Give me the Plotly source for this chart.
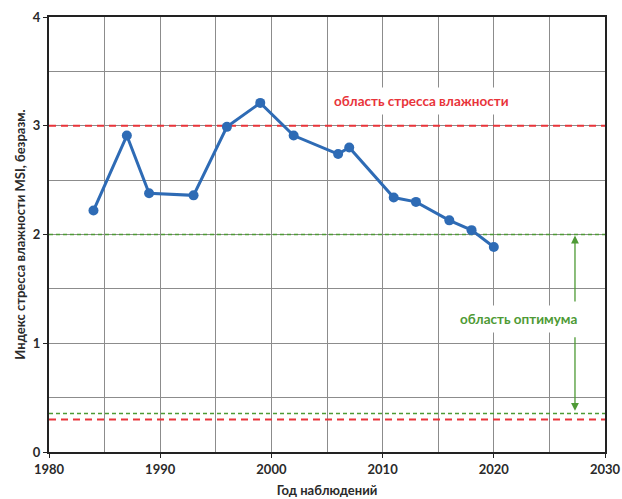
import plotly.graph_objects as go

years = [1984, 1987, 1989, 1993, 1996, 1999, 2002, 2006, 2007, 2011, 2013, 2016, 2018, 2020]
msi = [2.22, 2.91, 2.38, 2.36, 2.99, 3.21, 2.91, 2.74, 2.80, 2.34, 2.30, 2.13, 2.04, 1.885]

x_range = [1980, 2030]
stress_upper = 3.0
optimum_upper = 2.0
optimum_lower = 0.355
stress_lower = 0.30

blue = "#2E6BB5"
red = "#E8343A"
green = "#4E9A35"

fig = go.Figure()

fig.add_trace(go.Scatter(x=x_range, y=[stress_upper]*2, mode="lines",
                         line=dict(color=red, width=2, dash="7px,5px"), hoverinfo="skip"))
fig.add_trace(go.Scatter(x=x_range, y=[stress_lower]*2, mode="lines",
                         line=dict(color=red, width=2, dash="7px,5px"), hoverinfo="skip"))
fig.add_trace(go.Scatter(x=x_range, y=[optimum_upper]*2, mode="lines",
                         line=dict(color=green, width=1.5, dash="4px,3px"), hoverinfo="skip"))
fig.add_trace(go.Scatter(x=x_range, y=[optimum_lower]*2, mode="lines",
                         line=dict(color=green, width=1.5, dash="4px,3px"), hoverinfo="skip"))

fig.add_trace(go.Scatter(x=years, y=msi, mode="lines+markers",
                         line=dict(color=blue, width=3),
                         marker=dict(color=blue, size=10)))

font_family = "Lato, 'Open Sans', sans-serif"

fig.add_annotation(x=2013.5, y=3.23, text="<b>область стресса влажности</b>",
                   showarrow=False, font=dict(color=red, size=13.5, family=font_family),
                   bgcolor="white", borderpad=5)
fig.add_annotation(x=2022.2, y=1.22, text="<b>область оптимума</b>",
                   showarrow=False, font=dict(color=green, size=13.5, family=font_family),
                   bgcolor="white", borderpad=5)
# arrows
fig.add_annotation(x=2027.3, y=1.99, ax=2027.3, ay=1.37, xref="x", yref="y",
                   axref="x", ayref="y", text="", showarrow=True,
                   arrowhead=2, arrowsize=1.2, arrowwidth=1.3, arrowcolor=green)
fig.add_annotation(x=2027.3, y=0.38, ax=2027.3, ay=1.07, xref="x", yref="y",
                   axref="x", ayref="y", text="", showarrow=True,
                   arrowhead=2, arrowsize=1.2, arrowwidth=1.3, arrowcolor=green)

axis_common = dict(showline=True, linecolor="#222", linewidth=2, mirror=True,
                   showgrid=True, gridcolor="#8c8c8c", gridwidth=1, zeroline=False,
                   ticks="outside", ticklen=4, tickcolor="#222", automargin=False,
                   tickfont=dict(size=13, color="#2a2a2a", family=font_family, weight="bold"))

fig.update_xaxes(range=x_range, dtick=10, tick0=1980,
                 minor=dict(dtick=5, showgrid=True, gridcolor="#8c8c8c", ticks=""),
                 title=dict(text="<b>Год наблюдений</b>", font=dict(size=13, color="#2a2a2a", family=font_family), standoff=10),
                 tickformat="d", **axis_common)
fig.update_yaxes(range=[0, 4], dtick=1,
                 minor=dict(dtick=0.5, showgrid=True, gridcolor="#8c8c8c", ticks=""),
                 title=dict(text="<b>Индекс стресса влажности MSI, безразм.</b>", font=dict(size=13, color="#2a2a2a", family=font_family), standoff=4),
                 **axis_common)

fig.update_layout(width=622, height=499, margin=dict(l=49, r=17, t=17, b=47),
                  plot_bgcolor="white", paper_bgcolor="white", showlegend=False,
                  template="simple_white",
                  font=dict(family=font_family))

fig.write_html("out.html", config={"displayModeBar": False},
               post_script="document.body.style.margin='0';document.body.style.overflow='hidden';")
